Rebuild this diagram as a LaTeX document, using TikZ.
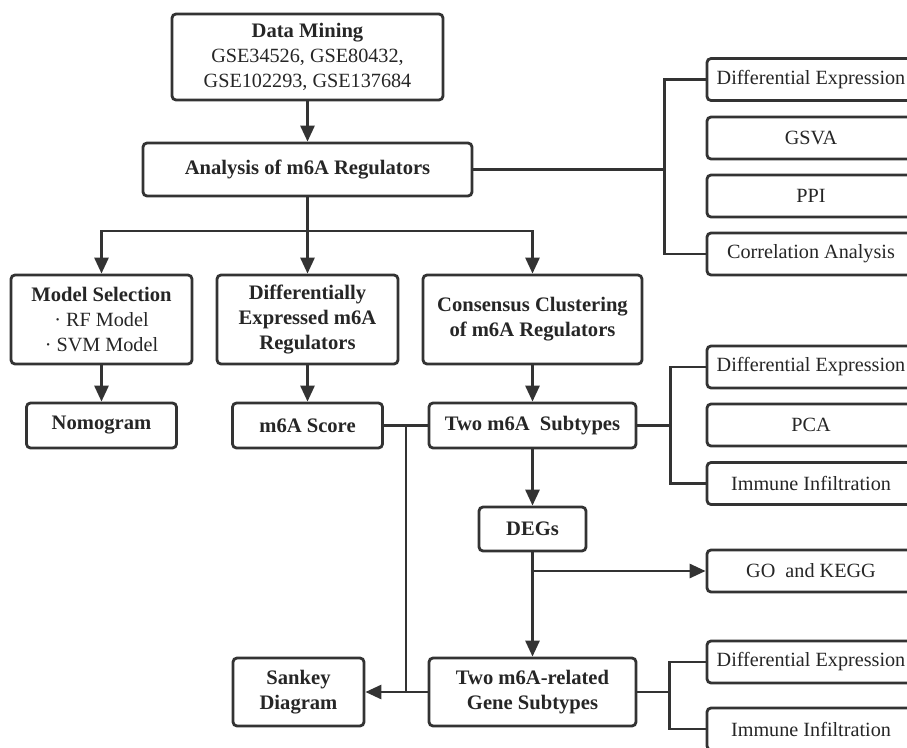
\documentclass[tikz,border=0pt]{standalone}
\usepackage{fontspec}
\setmainfont{Liberation Serif}
\usetikzlibrary{arrows.meta}
\definecolor{dkgray}{HTML}{333333}
\begin{document}
\begin{tikzpicture}[x=1pt,y=-1pt,
  box/.style={draw=dkgray, line width=2.8pt, rounded corners=4pt, inner sep=0pt, align=center,
    font=\fontsize{20.2}{25}\selectfont, text=black!85},
  bbox/.style={box, font=\fontsize{20.6}{25}\selectfont\bfseries},
  rbox/.style={box, minimum width=208pt, minimum height=42pt},
  conn/.style={draw=dkgray, line width=2.8pt},
  arr/.style={conn, -{Triangle[length=16pt,width=14pt]}}
]
\clip (0,0) rectangle (907,747);
\fill[white] (0,0) rectangle (907,747);

% main column
\node[box, minimum width=271pt, minimum height=86pt] (dm) at (307.5,57)
  {{\bfseries\fontsize{20.6}{25}\selectfont Data Mining}\\GSE34526, GSE80432,\\GSE102293, GSE137684};
\node[bbox, minimum width=329pt, minimum height=53pt] (an) at (307.5,169.5) {Analysis of m6A Regulators};

\node[box, minimum width=181pt, minimum height=89pt] (ms) at (101.5,319.5)
  {{\bfseries\fontsize{20.6}{25}\selectfont Model Selection}\\\textperiodcentered\ RF Model\\\textperiodcentered\ SVM Model};
\node[bbox, minimum width=181pt, minimum height=89pt] (de) at (307.5,319.5)
  {Differentially\\Expressed m6A\\Regulators};
\node[bbox, minimum width=219pt, minimum height=89pt] (cc) at (532.5,319.5)
  {Consensus Clustering\\of m6A Regulators};

\node[bbox, minimum width=150pt, minimum height=45pt] (nomo) at (101.5,425.5) {Nomogram};
\node[bbox, minimum width=150pt, minimum height=45pt] (sc) at (307.5,425.5) {m6A Score};
\node[bbox, minimum width=207pt, minimum height=45pt] (ts) at (532.5,425.5) {Two m6A\ \ Subtypes};
\node[bbox, minimum width=107pt, minimum height=44pt] (degs) at (532.5,529) {DEGs};
\node[bbox, minimum width=131pt, minimum height=68pt] (sk) at (298.5,692) {Sankey\\Diagram};
\node[bbox, minimum width=207pt, minimum height=68pt] (tr) at (532.5,692) {Two m6A-related\\Gene Subtypes};

% right column
\node[rbox] (r1) at (811,79.5) {Differential Expression};
\node[rbox] (r2) at (811,138) {GSVA};
\node[rbox] (r3) at (811,196) {PPI};
\node[rbox] (r4) at (811,254) {Correlation Analysis};
\node[rbox] (r5) at (811,367) {Differential Expression};
\node[rbox] (r6) at (811,425) {PCA};
\node[rbox] (r7) at (811,483.5) {Immune Infiltration};
\node[rbox] (r8) at (811,571) {GO\ \ and KEGG};
\node[rbox] (r9) at (811,662) {Differential Expression};
\node[rbox] (r10) at (811,729) {Immune Infiltration};

% connectors
\draw[arr] (dm) -- (an);
\coordinate (b0) at (307.5,231);
\draw[conn] (an.south) -- (b0);
\draw[arr] (b0) -| (ms.north);
\draw[arr] (b0) -- (de.north);
\draw[arr] (b0) -| (cc.north);

\coordinate (k1) at (666,169.5);
\draw[conn] (an.east) -- (k1);
\draw[conn] (r1.west) -- ++(-41,0) |- (r4.west);

\draw[arr] (ms) -- (nomo);
\draw[arr] (de) -- (sc);
\draw[arr] (cc) -- (ts);

\coordinate (k2) at (672,425.5);
\draw[conn] (ts.east) -- (k2);
\draw[conn] (r5.west) -- ++(-35,0) |- (r7.west);

\draw[conn] (ts.west) -- (sc.east);
\coordinate (j1) at (406,425.5);
\coordinate (j2) at (406,692);
\draw[conn] (j1) -- (j2);

\draw[arr] (ts) -- (degs);
\draw[arr] (degs) -- (tr);
\coordinate (g) at (532.5,571);
\draw[arr] (g) -- (r8.west);

\draw[arr] (tr.west) -- (sk.east);

\coordinate (k3) at (671,692);
\draw[conn] (tr.east) -- (k3);
\draw[conn] (r9.west) -- ++(-36,0) |- (r10.west);
\end{tikzpicture}
\end{document}
